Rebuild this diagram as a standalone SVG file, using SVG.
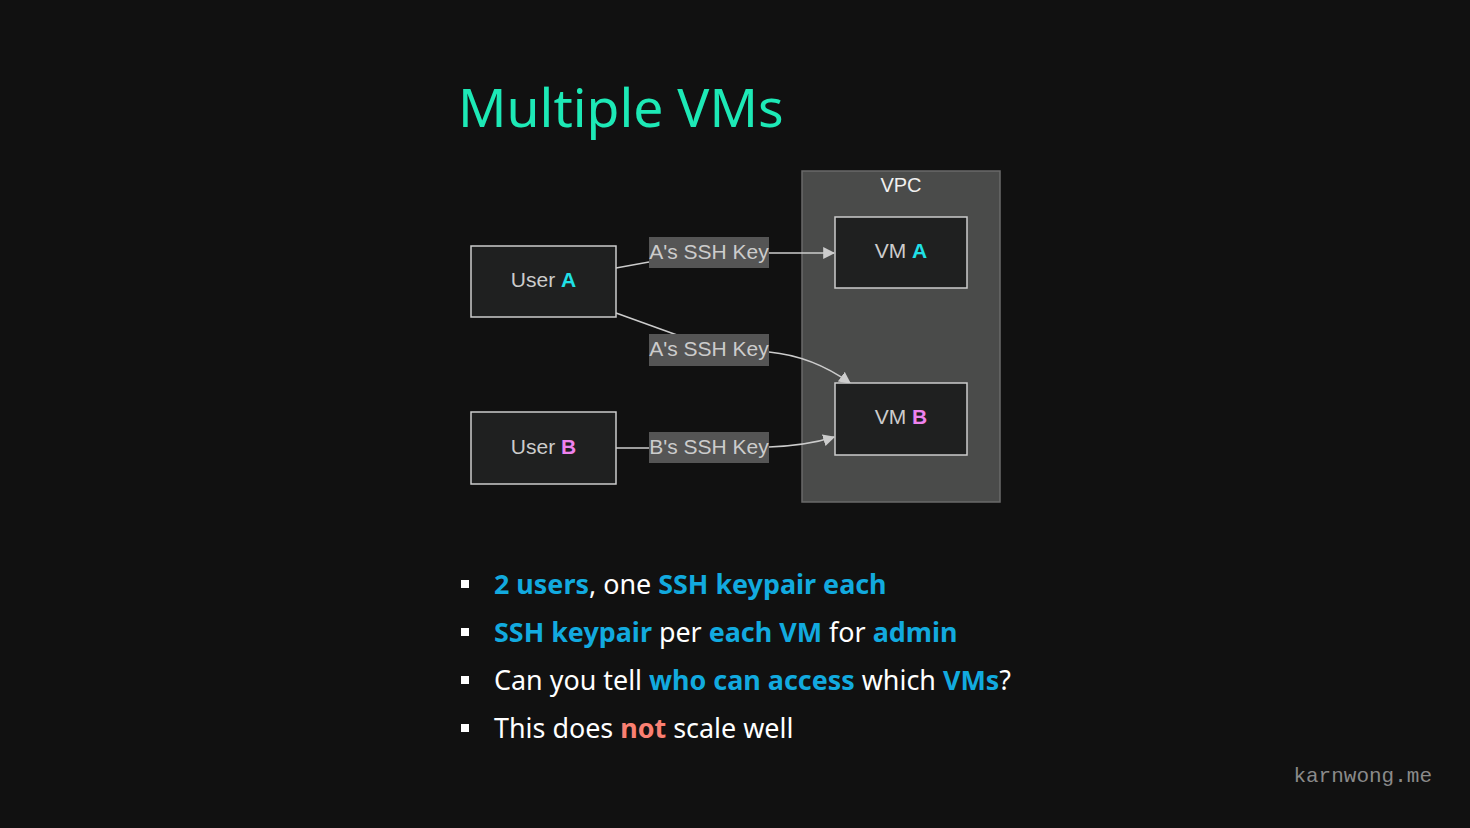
<svg xmlns="http://www.w3.org/2000/svg" width="1470" height="828" viewBox="0 0 1470 828">
<defs>
<style>
.bg{fill:#111111}
.node rect{fill:#1f2020;stroke:#cccccc;stroke-width:1.5}
.ntxt{font-family:"Liberation Sans",Arial,sans-serif;font-size:21px;fill:#cccccc;text-anchor:middle}
.lbl rect{fill:#555555}
.ltxt{font-family:"Liberation Sans",Arial,sans-serif;font-size:21px;fill:#cccccc;text-anchor:middle}
.edge{fill:none;stroke:#cccccc;stroke-width:1.5}
.bul{font-family:"Noto Sans","Open Sans",sans-serif;font-size:26.9px;fill:#ffffff}
.hl{fill:#12aadf;font-weight:bold}
.red{fill:#fa8072;font-weight:bold}
</style>
<marker id="arr" viewBox="0 0 10 10" refX="9" refY="5" markerWidth="12" markerHeight="12" markerUnits="userSpaceOnUse" orient="auto">
<path d="M0,0 L10,5 L0,10 z" fill="#cccccc"/>
</marker>
</defs>
<rect class="bg" x="0" y="0" width="1470" height="828"/>
<text x="458" y="127" font-family="'Noto Sans','Open Sans',sans-serif" font-size="53.5" fill="#1de9b6">Multiple VMs</text>

<g id="vpc">
<rect x="802" y="171" width="198" height="331" fill="#4a4b4a" stroke="#6a6a6a" stroke-width="1.5"/>
<text x="901" y="192" font-family="'Liberation Sans',Arial,sans-serif" font-size="20" fill="#f0f0f0" text-anchor="middle">VPC</text>
</g>

<g id="connectors">
<path class="edge" d="M616,268 L649,262"/>
<path class="edge" d="M769,253 L834,253" marker-end="url(#arr)"/>
<path class="edge" d="M616,313 L677,335"/>
<path class="edge" d="M769,352 C800,355 825,365 850,383" marker-end="url(#arr)"/>
<path class="edge" d="M616,448 L649,448"/>
<path class="edge" d="M769,447 C795,446 815,443 834,437" marker-end="url(#arr)"/>
</g>

<g id="labels">
<g class="lbl" id="lbl-a1"><rect x="649" y="237" width="120" height="31"/><text class="ltxt" x="709" y="259">A's SSH Key</text></g>
<g class="lbl" id="lbl-a2"><rect x="649" y="334" width="120" height="32"/><text class="ltxt" x="709" y="356">A's SSH Key</text></g>
<g class="lbl" id="lbl-b"><rect x="649" y="432" width="120" height="31"/><text class="ltxt" x="709" y="454">B's SSH Key</text></g>
</g>

<g class="node" id="userA"><rect x="471" y="246" width="145" height="71"/><text class="ntxt" x="543.5" y="287">User <tspan fill="#1fe0e6" font-weight="bold">A</tspan></text></g>
<g class="node" id="userB"><rect x="471" y="412" width="145" height="72"/><text class="ntxt" x="543.5" y="454">User <tspan fill="#ee82ee" font-weight="bold">B</tspan></text></g>
<g class="node" id="vmA"><rect x="835" y="217" width="132" height="71"/><text class="ntxt" x="901" y="258">VM <tspan fill="#1fe0e6" font-weight="bold">A</tspan></text></g>
<g class="node" id="vmB"><rect x="835" y="383" width="132" height="72"/><text class="ntxt" x="901" y="424">VM <tspan fill="#ee82ee" font-weight="bold">B</tspan></text></g>

<g id="bullets">
<rect x="461" y="580" width="8" height="8" fill="#ffffff"/>
<rect x="461" y="628" width="8" height="8" fill="#ffffff"/>
<rect x="461" y="676" width="8" height="8" fill="#ffffff"/>
<rect x="461" y="724" width="8" height="8" fill="#ffffff"/>
<text class="bul" x="494" y="594"><tspan class="hl">2 users</tspan>, one <tspan class="hl">SSH keypair each</tspan></text>
<text class="bul" x="494" y="642"><tspan class="hl">SSH keypair</tspan> per <tspan class="hl">each VM</tspan> for <tspan class="hl">admin</tspan></text>
<text class="bul" x="494" y="690">Can you tell <tspan class="hl">who can access</tspan> which <tspan class="hl">VMs</tspan>?</text>
<text class="bul" x="494" y="738">This does <tspan class="red">not</tspan> scale well</text>
</g>

<text x="1432" y="782" font-family="'Liberation Mono','DejaVu Sans Mono',monospace" font-size="21" fill="#8a8a8a" text-anchor="end">karnwong.me</text>
</svg>
